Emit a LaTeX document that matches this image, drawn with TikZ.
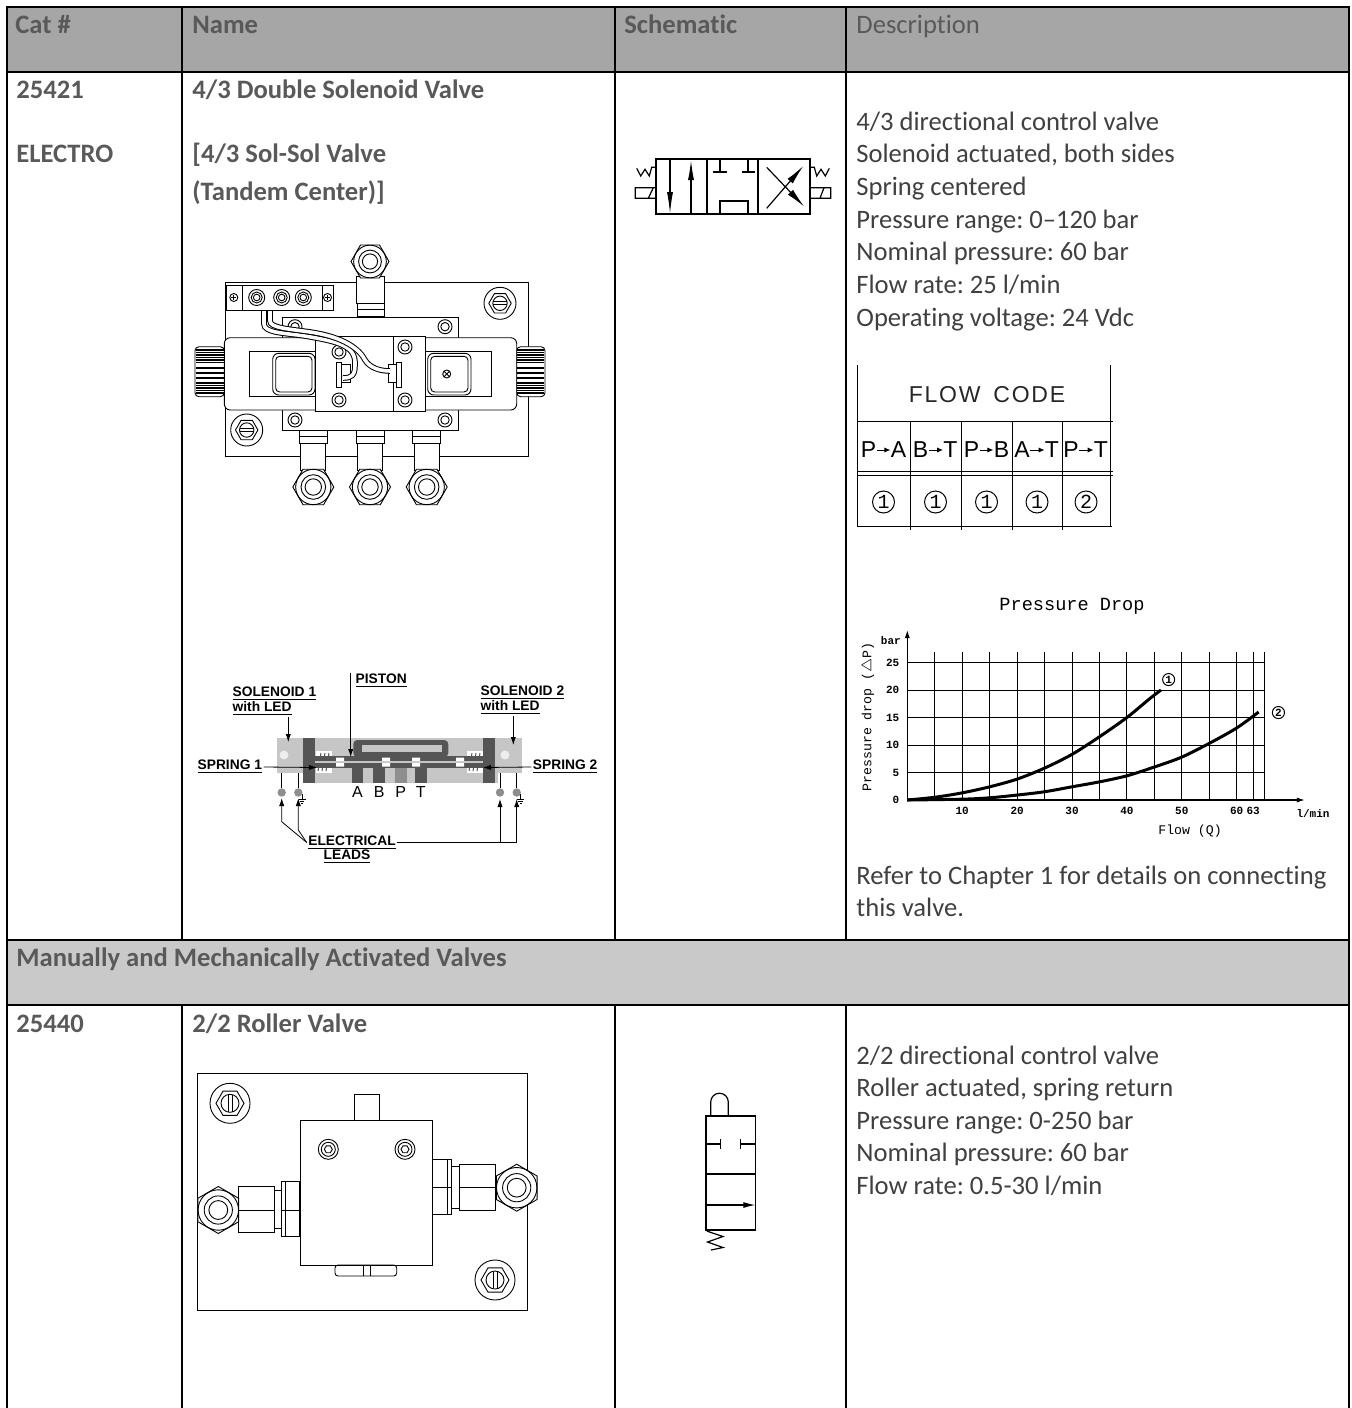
\documentclass[tikz,border=0pt]{standalone}
\usepackage{fontspec}
\setmainfont{Carlito}[Ligatures={TeX,NoCommon}]
\newfontfamily\cadfont{Liberation Sans}
\newfontfamily\plotfont{Liberation Mono}
\usetikzlibrary{arrows.meta, positioning}
\frenchspacing

\definecolor{headfill}{HTML}{A6A6A6}
\definecolor{sectfill}{HTML}{C9C9C9}
\definecolor{headtext}{HTML}{595959}
\definecolor{desctext}{HTML}{404040}
\definecolor{cutlight}{HTML}{C6C6C6}
\definecolor{cutmid}{HTML}{8E8E8E}
\definecolor{cutdark}{HTML}{555555}

% hex nut with bore: x, y, hex radius, start angle
\newcommand\hexfitting[4]{%
  \draw[part, fill=white] (#1,#2) ++(#4:#3) -- ++({#4+120}:#3) -- ++({#4+180}:#3)
    -- ++({#4+240}:#3) -- ++({#4+300}:#3) -- ++(#4:#3) -- cycle;
  \draw[part] (#1,#2) circle[radius=0.86*#3];
  \draw[part] (#1,#2) circle[radius=0.6*#3];
  \draw[part] (#1,#2) circle[radius=0.4*#3];
}
% slotted screw: x, y, radius, slot angle
\newcommand\slotscrew[4]{%
  \draw[part] (#1,#2) circle[radius=#3];
  \draw[part] (#1,#2) ++(0:0.7*#3) -- ++(120:0.7*#3) -- ++(180:0.7*#3)
    -- ++(240:0.7*#3) -- ++(300:0.7*#3) -- ++(0:0.7*#3) -- cycle;
  \draw[part] (#1,#2) circle[radius=0.45*#3];
  \draw[part, rotate around={#4:(#1,#2)}] ({#1-0.42*#3},{#2-0.1*#3}) -- ({#1+0.42*#3},{#2-0.1*#3})
    ({#1-0.42*#3},{#2+0.1*#3}) -- ({#1+0.42*#3},{#2+0.1*#3});
}
% bolt head: x, y, radius
\newcommand\boltring[3]{%
  \draw[part, fill=white] (#1,#2) circle[radius=#3];
  \draw[part] (#1,#2) circle[radius=0.6*#3];
}
\newcommand\spaced[1]{\def\next##1{##1\kern0.9pt}\next#1}

\begin{document}
\begin{tikzpicture}[x=0.5pt, y=-0.5pt,
  rule/.style={line width=1pt},
  part/.style={line width=0.45pt},
  headlabel/.style={font=\bfseries\fontsize{13.3}{16}\selectfont, text=headtext, anchor=base west, inner sep=0pt},
  desclabel/.style={font=\fontsize{13.3}{16}\selectfont, text=desctext, anchor=base west, inner sep=0pt},
  cadlabel/.style={font=\cadfont\bfseries\fontsize{6.9}{8}\selectfont, inner sep=0.6pt},
  codeline/.style={line width=0.5pt},
  codetext/.style={font=\cadfont\fontsize{11.5}{12}\selectfont, inner sep=0pt},
  codenum/.style={circle, draw, line width=0.5pt, minimum size=11pt, inner sep=0pt, font=\plotfont\fontsize{10}{10}\selectfont},
  plotlabel/.style={font=\plotfont\bfseries\fontsize{5.5}{6}\selectfont, inner sep=0.5pt},
  plottext/.style={font=\plotfont\fontsize{6.6}{7}\selectfont, inner sep=0pt},
  gridline/.style={line width=0.45pt},
  curve/.style={line width=1.5pt},
  valveline/.style={line width=0.6pt},
  wire/.style={double=white, double distance=1.8pt, line width=0.5pt},
  tip/.style={-{Latex[length=4pt,width=2.6pt]}},
]
\useasboundingbox (0,0) rectangle (1351,1408);

% table frame
\fill[headfill] (7,7) rectangle (1349,72);
\fill[sectfill] (7,940) rectangle (1349,1005);
\draw[rule] (7,1408) -- (7,7) -- (1349,7) -- (1349,1408);
\draw[rule] (7,72) -- (1349,72) (7,940) -- (1349,940) (7,1005) -- (1349,1005);
\foreach \cx in {182,615,846}
  \draw[rule] (\cx,7) -- (\cx,940) (\cx,1005) -- (\cx,1408);

% header
\node[headlabel] (hcat) at (15,33) {Cat \#};
\node[headlabel] (hname) at (192,33) {Name};
\node[headlabel] (hschem) at (624,33) {Schematic};
\node[headlabel, font=\fontsize{13.3}{16}\selectfont] (hdesc) at (856,33) {Description};

% row 25421
\node[headlabel] (cat1) at (16,98) {25421};
\node[headlabel] (cat1b) at (16,162) {ELECTRO};
\node[headlabel] (name1) at (192,98) {4/3 Double Solenoid Valve};
\node[headlabel] (name1b) at (192,162) {[4/3 Sol-Sol Valve};
\node[headlabel] (name1c) at (192,200) {(Tandem Center)]};
\foreach \txt [count=\i] in {{4/3 directional control valve}, {Solenoid actuated, both sides},
    {Spring centered}, {Pressure range: 0--120 bar}, {Nominal pressure: 60 bar},
    {Flow rate: 25 l/min}, {Operating voltage: 24 Vdc}}
  \node[desclabel] (desc\i) at (856,{130+32.67*(\i-1)}) {\txt};
\node[desclabel] (refer1) at (856,884) {Refer to Chapter 1 for details on connecting};
\node[desclabel] (refer2) at (856,916) {this valve.};

% section row
\node[headlabel] (sect) at (16,966) {Manually and Mechanically Activated Valves};

% row 25440
\node[headlabel] (cat2) at (16,1032) {25440};
\node[headlabel] (name2) at (192,1032) {2/2 Roller Valve};
\foreach \txt [count=\i] in {{2/2 directional control valve}, {Roller actuated, spring return},
    {Pressure range: 0-250 bar}, {Nominal pressure: 60 bar}, {Flow rate: 0.5-30 l/min}}
  \node[desclabel] (spec\i) at (856,{1064+32.5*(\i-1)}) {\txt};

% 4/3 valve symbol
\draw[valveline] (656,159) rectangle (810,214);
\draw[valveline] (707,159) -- (707,214) (758,159) -- (758,214);
\draw[valveline, -{Latex[length=11pt,width=3pt]}] (670,160) -- (670,214);
\draw[valveline, -{Latex[length=10pt,width=3pt]}] (691,214) -- (691,160);
\draw[valveline] (720,159) -- (720,172) (713,172) -- (727,172);
\draw[valveline] (748,159) -- (748,172) (742,172) -- (755,172);
\draw[valveline] (720,214) -- (720,201) -- (748,201) -- (748,214);
\draw[valveline, -{Latex[length=10pt,width=3.5pt]}] (766.7,208.3) -- (803.3,166);
\draw[valveline, -{Latex[length=10pt,width=3.5pt]}] (766.7,167.3) -- (804.3,206.7);
\draw[valveline] (635.3,187.7) rectangle (656,198.3) (648.3,198.3) -- (653.3,187.7);
\draw[valveline] (636.7,168.3) -- (640.7,176) -- (645,169.3) -- (649.3,176) -- (651.7,167.3) -- (656,167.3);
\draw[valveline] (810,187.7) rectangle (830.7,198.3) (820,198.3) -- (824,187.7);
\draw[valveline] (810,167.3) -- (814.3,167.3) -- (816.7,176) -- (821,169.3) -- (825.3,176) -- (829.3,168.3);

% flow code table
\draw[codeline] (857,365) -- (857,527) (1110,365) -- (1110,527);
\draw[codeline] (857,421) -- (1113,421);
\draw[codeline] (857,471) -- (1113,471) (857,475) -- (1113,475);
\draw[codeline] (857,526) -- (1112,526);
\foreach \cx in {910,961,1012,1062}
  \draw[codeline] (\cx,421) -- (\cx,530);
\node[font=\cadfont\fontsize{11.5}{12}\selectfont, text=black!85] (flowcode) at (987,395)
  {F\kern0.9pt L\kern0.9pt O\kern0.9pt W\ \ C\kern0.9pt O\kern0.9pt D\kern0.9pt E};
\foreach \cx/\src/\dst/\code [count=\k] in {883.5/P/A/1, 935.5/B/T/1, 986.5/P/B/1, 1037/A/T/1, 1086/P/T/2} {
  \node[codetext] (from\k) at (\cx-15,450) {\src};
  \node[codetext] (to\k) at (\cx+15,450) {\dst};
  \draw[line width=0.5pt, -{Latex[length=3pt,width=2.6pt]}] (from\k.east) -- (to\k.west);
  \node[codenum] (code\k) at (\cx,502) {\code};
}

% pressure drop chart
\node[font=\plotfont\fontsize{9.3}{10}\selectfont] (ptitle) at (1072,606) {Pressure Drop};
\begin{scope}[shift={(907.3,800)}, xscale=5.49, yscale=-5.5]
  \foreach \q in {5,10,...,60,63,65}
    \draw[gridline] (\q,0) -- (\q,27);
  \foreach \p in {5,10,...,25}
    \draw[gridline] (0,\p) -- (65,\p);
  \draw[line width=0.6pt, -{Latex[length=4pt,width=2.6pt]}] (0,0) -- (72.4,0);
  \draw[line width=0.6pt, -{Latex[length=4pt,width=2.6pt]}] (0,0) -- (0,30.9);
  \foreach \p in {0,5,...,25}
    \node[plotlabel, anchor=east] (ytick\p) at (-1.2,\p) {\p};
  \foreach \q in {10,20,30,40,50,60,63}
    \node[plotlabel] (xtick\q) at (\q,-2) {\q};
  \node[plotlabel] (yunit) at (-3,28.9) {bar};
  \node[plotlabel] (xunit) at (73.9,-2.4) {l/min};
  \node[plottext] (xname) at (51.5,-5.6) {Flow (Q)};
  \node[plottext, rotate=90] (yname) at (-7.2,15.1) {Pressure drop ($\triangle$P)};
  \draw[curve] plot[smooth] coordinates {(0,0) (5,0.5) (10,1.3) (15,2.4) (20,3.8)
    (25,5.8) (30,8.3) (35,11.5) (40,15) (44,18.3) (46.2,20)};
  \draw[curve] plot[smooth] coordinates {(0,0) (10,0.15) (15,0.4) (20,0.9) (25,1.5)
    (30,2.4) (35,3.3) (40,4.4) (45,6) (50,7.8) (55,10.3) (60,13.1) (64,16)};
  \node[circle, draw, line width=0.5pt, inner sep=0.4pt, font=\plotfont\bfseries\fontsize{5.5}{5}\selectfont] (curve1) at (47.6,21.9) {1};
  \node[circle, draw, line width=0.5pt, inner sep=0.4pt, font=\plotfont\bfseries\fontsize{5.5}{5}\selectfont] (curve2) at (67.6,15.9) {2};
\end{scope}

% valve assembly (top view)
\draw[part] (225.7,282.7) rectangle (528,456.7);
\draw[part, fill=white] (226.7,285) rectangle (333,310);
\draw[part] (242,285) -- (242,310) (322,285) -- (322,310);
\foreach \tx in {256.7,281.7,303.3} {
  \draw[part] (\tx,297.5) circle[radius=8];
  \draw[part] (\tx,297.5) circle[radius=5.5];
  \draw[part] (\tx,297.5) circle[radius=3.3];
}
\foreach \sx in {233.8,327.5} {
  \draw[part] (\sx,297.5) circle[radius=4];
  \draw[part] (\sx-2.5,297.5) -- (\sx+2.5,297.5) (\sx,295) -- (\sx,300);
}
% top fitting
\draw[part, fill=white] (356,276) rectangle (384,303);
\draw[part, fill=white] (357,303) rectangle (384,316);
\draw[part] (357,309.5) -- (384,309.5);
\hexfitting{370}{261.5}{19}{0}
% sub-plate and valve body
\draw[part, fill=white] (282.7,317.7) rectangle (458.3,430);
\draw[part, fill=white, rounded corners=3] (224.3,337.7) rectangle (516.7,410);
\draw[part] (249.3,351) rectangle (491,396.7);
\draw[part, fill=white, rounded corners=3] (272.7,353.3) rectangle (315,395);
\draw[part, rounded corners=2] (275.7,356.3) rectangle (312,392);
\draw[part, fill=white, rounded corners=3] (427.7,353.3) rectangle (471,395);
\draw[part, rounded corners=2] (430.7,356.3) rectangle (468,392);
\draw[part] (446.7,374) circle[radius=4] (444,371.3) -- (449.4,376.7) (444,376.7) -- (449.4,371.3);
\draw[part, fill=white] (315,336.7) rectangle (425,411.7);
\draw[part] (393.3,336.7) -- (393.3,411.7);
\foreach \bx/\by in {295/326.7, 445/326.7, 295/420, 445/420, 339/352, 405/347, 339/400, 405/400}
  \boltring{\bx}{\by}{7};
\draw[part, fill=white] (336.5,362) rectangle (341.5,387);
\draw[part, fill=white] (341.5,364) rectangle (350,382);
\draw[part, fill=white] (396.5,362) rectangle (401.5,387);
\draw[part, fill=white] (388.5,364) rectangle (396.5,382);
% wires
\draw[wire] (264,311) -- (264,324) .. controls (264,333) and (285,333) .. (305,336)
  .. controls (340,342) and (356,346) .. (355,365) .. controls (355,375) and (352,378) .. (343,378);
\draw[wire] (270,311) -- (270,321) .. controls (270,328) and (290,329) .. (310,332)
  .. controls (345,337) and (360,350) .. (365,360) .. controls (370,368) and (380,371) .. (390,371);
% manual override knobs
\draw[part, fill=white, rounded corners=2] (195,346.7) rectangle (224.3,396.7);
\draw[part, fill=white, rounded corners=2] (516.7,346.7) rectangle (545,396.7);
\foreach \ry in {350,352.5,...,363,368,373,378,383,385.5,...,395}
  \draw[line width=0.6pt] (196,\ry) -- (224.3,\ry) (516.7,\ry) -- (544,\ry);
% port fittings
\foreach \fx in {313.3,370,426.7} {
  \draw[part, fill=white] (\fx-14,430) rectangle (\fx+14,443.5);
  \draw[part] (\fx-14,436.7) -- (\fx+14,436.7);
  \draw[part, fill=white] (\fx-12.5,443.5) rectangle (\fx+12.5,470);
  \hexfitting{\fx}{487}{20.5}{0}
}
\slotscrew{500}{303.3}{16}{0}
\slotscrew{246.7}{430}{16}{0}

% cut-away view
\fill[cutlight] (276.7,738.3) rectangle (306.7,773.3);
\fill[cutlight] (303.3,738.3) rectangle (498.3,783.3);
\fill[cutlight] (498.3,738.3) rectangle (521.7,773.3);
\fill[cutdark] (303.3,738.3) rectangle (315,783.3);
\fill[cutdark] (483.3,738.3) rectangle (495,783.3);
\fill[white!70!cutlight] (284,755) circle[radius=4.5] (505,755) circle[radius=4.5];
\fill[cutdark, rounded corners=2] (353.3,740) rectangle (448.3,757);
\fill[cutlight] (361.7,745) rectangle (441.7,752);
\foreach \sx in {316,467} {
  \fill[white] (\sx,751) rectangle (\sx+16,773);
  \foreach \hx in {2,6,10}
    \draw[cutdark, line width=0.5pt] (\sx+\hx,771) -- (\sx+\hx+3,753);
}
\fill[cutdark] (315,756) rectangle (483.3,768);
\draw[cutlight, line width=0.6pt] (315,762) -- (483.3,762);
\foreach \px in {336,382,412,456}
  \fill[white] (\px,757.5) rectangle (\px+8,761) (\px,763) rectangle (\px+8,766.5);
\foreach \ax/\shade in {351.7/cutdark, 373.3/cutdark, 395/cutmid, 415/cutdark}
  \fill[\shade] (\ax,768) rectangle (\ax+11.7,783.3);
\foreach \ax/\port in {357.5/A, 379.2/B, 400.8/P, 420.8/T}
  \node[cadlabel, font=\cadfont\fontsize{8}{8}\selectfont] (port\port) at (\ax,791.5) {\port};
\foreach \lx in {281.7,298.3,500,516.7} {
  \draw[line width=0.5pt] (\lx,773.3) -- (\lx,788);
  \fill[cutmid] (\lx,792.5) circle[radius=4.2];
}
\foreach \gx in {302,520.5}
  \draw[line width=0.5pt] (\gx,794) -- (\gx,799) (\gx-3.5,799) -- (\gx+3.5,799)
    (\gx-2.3,801) -- (\gx+2.3,801) (\gx-1,803) -- (\gx+1,803);

\node[cadlabel, anchor=west] (sol1) at (231,694) {\underline{SOLENOID 1}};
\node[cadlabel, anchor=west] (sol1led) at (231,708.5) {\underline{with LED}};
\node[cadlabel, anchor=west] (sol2) at (479,693) {\underline{SOLENOID 2}};
\node[cadlabel, anchor=west] (sol2led) at (479,707.5) {\underline{with LED}};
\node[cadlabel, anchor=west] (pistonlbl) at (354,681) {\underline{PISTON}};
\node[cadlabel, anchor=west] (spring1) at (196,767) {\underline{SPRING 1}};
\node[cadlabel, anchor=east] (spring2) at (599,767) {\underline{SPRING 2}};
\node[cadlabel] (eleclbl) at (352,842.5) {\underline{ELECTRICAL}};
\node[cadlabel] (leadslbl) at (347,857) {\underline{LEADS}};

\coordinate (sol1tip) at (288.3,742);
\coordinate (sol2tip) at (513.3,745);
\coordinate (pistontip) at (350.7,757);
\coordinate (spring1tip) at (317,767.5);
\coordinate (spring2tip) at (483,767.5);
\coordinate (leadA) at (281.7,798);
\coordinate (leadB) at (298.3,798);
\coordinate (leadC) at (500,799);
\coordinate (leadD) at (516.7,799);
\draw[tip] (sol1led.south -| sol1tip) -- (sol1tip);
\draw[tip] (sol2led.south -| sol2tip) -- (sol2tip);
\draw[tip] (pistonlbl.north west -| pistontip) -- (pistontip);
\draw[tip] (spring1.east) -- (spring1tip);
\draw[tip] (spring2.west) -- (spring2tip);
\draw[tip] (eleclbl.west) -- (281.7,821.7) -- (leadA);
\draw[tip] (eleclbl.west) -- (298.3,830) -- (leadB);
\draw (eleclbl.east) -- (eleclbl.east -| leadD);
\draw[tip] (eleclbl.east -| leadC) -- (leadC);
\draw[tip] (eleclbl.east -| leadD) -- (leadD);

% roller valve (top view)
\draw[part] (197.7,1073.3) rectangle (527.3,1310);
\draw[part, fill=white] (354,1094.3) rectangle (379.3,1120.7);
\draw[part, fill=white] (300,1120.7) rectangle (432.3,1265);
\foreach \sx in {328.3,405} {
  \draw[part] (\sx,1149.3) circle[radius=10];
  \draw[part] (\sx,1149.3) circle[radius=7];
  \draw[part] (\sx,1149.3) ++(0:4) -- ++(120:4) -- ++(180:4) -- ++(240:4) -- ++(300:4) -- ++(0:4) -- cycle;
}
\draw[part, fill=white] (281,1181.7) rectangle (299.3,1236.7);
\draw[part] (281,1210) -- (299.3,1210) (285,1181.7) -- (285,1236.7);
\draw[part, fill=white] (274.3,1190) rectangle (281,1228);
\draw[part, fill=white] (238.3,1186) rectangle (274.3,1232.7);
\draw[part] (238.3,1210) -- (274.3,1210);
\hexfitting{218.3}{1210}{23.5}{90}
\draw[part, fill=white] (432.3,1159.3) rectangle (451.7,1214.3);
\draw[part] (432.3,1187.7) -- (451.7,1187.7) (447.7,1159.3) -- (447.7,1214.3);
\draw[part, fill=white] (451.7,1166) rectangle (459.3,1208);
\draw[part, fill=white] (459.3,1164.3) rectangle (495.7,1210.7);
\draw[part] (459.3,1187.7) -- (495.7,1187.7);
\hexfitting{516.7}{1187.7}{23.5}{90}
\draw[part, rounded corners=1.5] (335,1265) rectangle (396.7,1276);
\draw[part] (363.3,1265) -- (363.3,1276) (370,1265) -- (370,1276);
\slotscrew{230}{1103.3}{20}{90}
\slotscrew{495}{1280}{20}{90}

% 2/2 roller valve symbol
\draw[valveline] (706,1116) rectangle (755.3,1230);
\draw[valveline] (706,1174) -- (755.3,1174);
\draw[valveline] (710.7,1116) -- (710.7,1102) arc[start angle=180, end angle=360, radius=8.8] -- (728.3,1116);
\draw[valveline] (706,1144) -- (720.7,1144) (720.7,1139) -- (720.7,1149);
\draw[valveline] (740.7,1144) -- (755.3,1144) (740.7,1139) -- (740.7,1149);
\draw[valveline, -{Latex[length=6pt,width=3pt]}] (706,1205) -- (755.3,1205);
\draw[valveline] (706.7,1231) -- (723,1236.5) -- (707.5,1242) -- (723,1247.5) -- (711,1250);

\end{tikzpicture}
\end{document}
